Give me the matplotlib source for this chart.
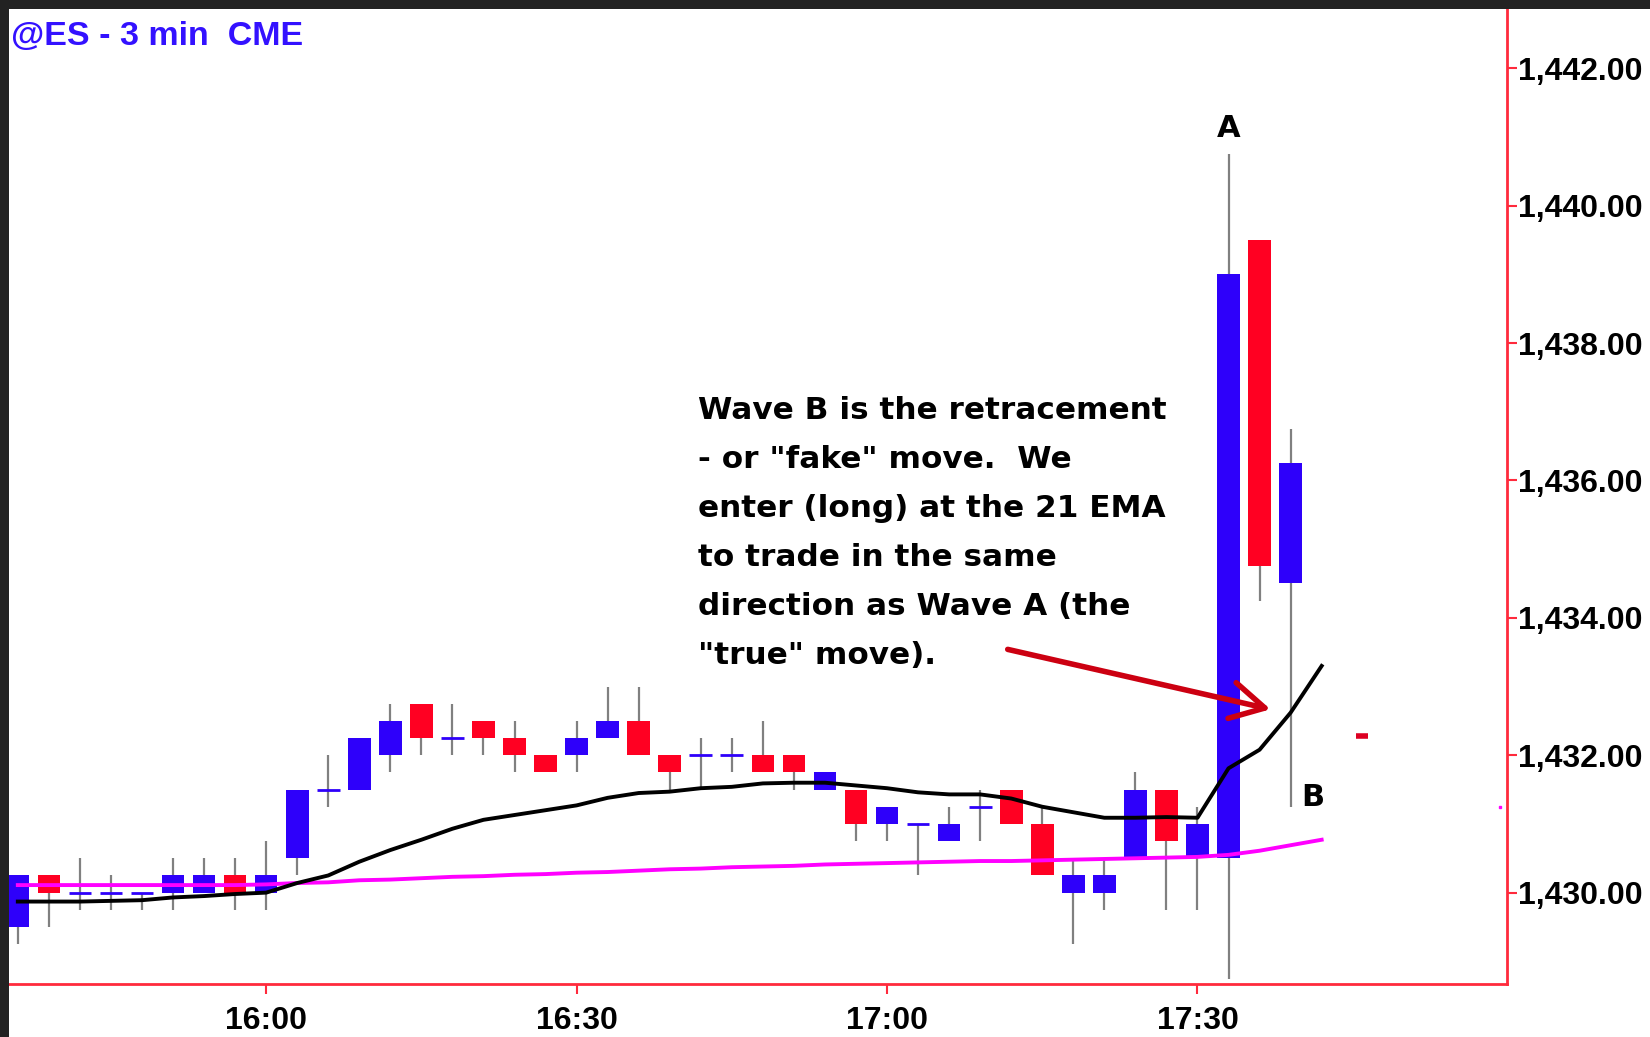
import numpy as np
import matplotlib.pyplot as plt
from matplotlib.patches import Rectangle
from matplotlib.ticker import FuncFormatter

# bar positions counted from the 16:00 bar (3 minute bars)
bar_index = list(range(-8, 34))
opens = [1429.5, 1430.25, 1430.0, 1430.0, 1430.0, 1430.0, 1430.0, 1430.25,
         1430.0, 1430.5, 1431.5, 1431.5, 1432.0, 1432.75, 1432.25, 1432.5,
         1432.25, 1432.0, 1432.0, 1432.25, 1432.5, 1432.0, 1432.0, 1432.0,
         1432.0, 1432.0, 1431.5, 1431.5, 1431.0, 1431.0, 1430.75, 1431.25,
         1431.5, 1431.0, 1430.0, 1430.0, 1430.5, 1431.5, 1430.5, 1430.5,
         1439.5, 1434.5]
highs = [1430.25, 1430.25, 1430.5, 1430.25, 1430.0, 1430.5, 1430.5, 1430.5,
         1430.75, 1431.5, 1432.0, 1432.25, 1432.75, 1432.75, 1432.75, 1432.5,
         1432.5, 1432.0, 1432.5, 1433.0, 1433.0, 1432.0, 1432.25, 1432.25,
         1432.5, 1432.0, 1431.75, 1431.5, 1431.25, 1431.0, 1431.25, 1431.5,
         1431.5, 1431.25, 1430.5, 1430.5, 1431.75, 1431.5, 1431.25, 1440.75,
         1439.5, 1436.75]
lows = [1429.25, 1429.5, 1429.75, 1429.75, 1429.75, 1429.75, 1430.0, 1429.75,
        1429.75, 1430.25, 1431.25, 1431.5, 1431.75, 1432.0, 1432.0, 1432.0,
        1431.75, 1431.75, 1431.75, 1432.25, 1432.0, 1431.5, 1431.5, 1431.75,
        1431.75, 1431.5, 1431.5, 1430.75, 1430.75, 1430.25, 1430.75, 1430.75,
        1431.0, 1430.25, 1429.25, 1429.75, 1430.5, 1429.75, 1429.75, 1428.75,
        1434.25, 1431.25]
closes = [1430.25, 1430.0, 1430.0, 1430.0, 1430.0, 1430.25, 1430.25, 1430.0,
          1430.25, 1431.5, 1431.5, 1432.25, 1432.5, 1432.25, 1432.25, 1432.25,
          1432.0, 1431.75, 1432.25, 1432.5, 1432.0, 1431.75, 1432.0, 1432.0,
          1431.75, 1431.75, 1431.75, 1431.0, 1431.25, 1431.0, 1431.0, 1431.25,
          1431.0, 1430.25, 1430.25, 1430.25, 1431.5, 1430.75, 1431.0, 1439.0,
          1434.75, 1436.25]

# moving averages (black = 21 EMA, magenta = slow average)
line_index = list(range(-8, 35))
ema21 = [1429.87, 1429.87, 1429.87, 1429.88, 1429.89, 1429.93, 1429.95, 1429.98,
         1430.00, 1430.14, 1430.25, 1430.45, 1430.62, 1430.77, 1430.93, 1431.06,
         1431.13, 1431.20, 1431.27, 1431.38, 1431.45, 1431.47, 1431.52, 1431.54,
         1431.59, 1431.60, 1431.60, 1431.56, 1431.52, 1431.46, 1431.43, 1431.43,
         1431.37, 1431.25, 1431.17, 1431.09, 1431.09, 1431.10, 1431.09, 1431.81,
         1432.08, 1432.62, 1433.30]
slow_avg = [1430.11, 1430.11, 1430.11, 1430.11, 1430.11, 1430.11, 1430.11, 1430.11,
            1430.12, 1430.14, 1430.15, 1430.18, 1430.19, 1430.21, 1430.23, 1430.24,
            1430.26, 1430.27, 1430.29, 1430.30, 1430.32, 1430.34, 1430.35, 1430.37,
            1430.38, 1430.39, 1430.41, 1430.42, 1430.43, 1430.44, 1430.45, 1430.46,
            1430.46, 1430.47, 1430.48, 1430.49, 1430.50, 1430.51, 1430.52, 1430.55,
            1430.61, 1430.69, 1430.77]

last_price_index = 35.3
last_price = 1432.28
slow_dot_index = 39.73
slow_dot_price = 1431.24

time_ticks = [0, 10, 20, 30]
time_labels = ["16:00", "16:30", "17:00", "17:30"]
price_ticks = [1430, 1432, 1434, 1436, 1438, 1440, 1442]

note_lines = ['Wave B is the retracement',
              '- or "fake" move.  We',
              'enter (long) at the 21 EMA',
              'to trade in the same',
              'direction as Wave A (the',
              '"true" move).']

BLUE = "#2e00fa"
RED = "#ff0022"
AXIS_RED = "#ff2a3c"

plt.rcParams['font.family'] = ['Liberation Sans', 'DejaVu Sans']
plt.rcParams['font.weight'] = 'bold'

W, H = 1650, 1037
fig = plt.figure(figsize=(W / 100, H / 100), dpi=100, facecolor="white")

# dark frame on the top and left edge of the screenshot
fig.patches.append(Rectangle((0, 1 - 8.5 / H), 1, 8.5 / H, transform=fig.transFigure,
                             facecolor="#222222", edgecolor="none"))
fig.patches.append(Rectangle((0, 0), 8.5 / W, 1, transform=fig.transFigure,
                             facecolor="#222222", edgecolor="none"))

ax = fig.add_axes([8.5 / W, 53 / H, (1507 - 8.5) / W, (984 - 8.5) / H])
ax.set_facecolor("white")

x = np.array(bar_index, dtype=float)
o = np.array(opens)
h = np.array(highs)
l = np.array(lows)
c = np.array(closes)
bw = 0.73

# wicks
ax.vlines(x, l, h, color="#808080", lw=1.6, zorder=1)

up = c > o
down = c < o
flat = c == o
ax.bar(x[up], c[up] - o[up], bottom=o[up], width=bw, color=BLUE, zorder=2)
ax.bar(x[down], o[down] - c[down], bottom=c[down], width=bw, color=RED, zorder=2)
ax.hlines(c[flat], x[flat] - bw / 2, x[flat] + bw / 2, color=BLUE, lw=2, zorder=2)

ax.plot(line_index, slow_avg, color="#ff00ff", lw=2.8, zorder=3)
ax.plot(line_index, ema21, color="black", lw=2.8, zorder=4)

ax.hlines(last_price, last_price_index - 0.2, last_price_index + 0.2, color="#dd0022", lw=4)
ax.plot([slow_dot_index], [slow_dot_price], "s", color="#ff00ff", ms=2)

ax.set_xlim(-8.3, 39.97)
ax.set_ylim(1428.67, 1442.87)

ax.set_xticks(time_ticks)
ax.set_xticklabels(time_labels)
ax.set_yticks(price_ticks)
ax.yaxis.set_major_formatter(FuncFormatter(lambda v, p: "{:,.2f}".format(v)))
ax.yaxis.tick_right()

for s in ["top", "left"]:
    ax.spines[s].set_visible(False)
for s in ["right", "bottom"]:
    ax.spines[s].set_color(AXIS_RED)
    ax.spines[s].set_linewidth(2)

ax.tick_params(axis="both", color=AXIS_RED, width=1.5, length=7,
               labelcolor="black", labelsize=23)
ax.tick_params(axis="y", pad=1)
ax.tick_params(axis="x", pad=8.5)

# title
fig.text(11 / W, 1 - 45 / H, "@ES - 3 min  CME", color="#3311ff",
         fontsize=24.5, fontweight="bold", va="baseline", ha="left")

# wave labels
ax.text(31, 1441.0, "A", fontsize=22, fontweight="bold", family="DejaVu Sans",
        ha="center", va="baseline")
ax.text(33.73, 1431.26, "B", fontsize=22, fontweight="bold", family="DejaVu Sans",
        ha="center", va="baseline")

# explanation
for k, line in enumerate(note_lines):
    ax.text(0.460, 0.579 - k * 0.0502, line, transform=ax.transAxes,
            fontsize=22.4, fontweight="bold", family="DejaVu Sans",
            ha="left", va="baseline")

ax.annotate("", xy=(32.44, 1432.66), xytext=(23.8, 1433.55),
            arrowprops=dict(arrowstyle="->,head_length=1.1,head_width=0.6",
                            color="#cc0011", lw=4, mutation_scale=22))

fig.savefig("out.png", dpi=100)
